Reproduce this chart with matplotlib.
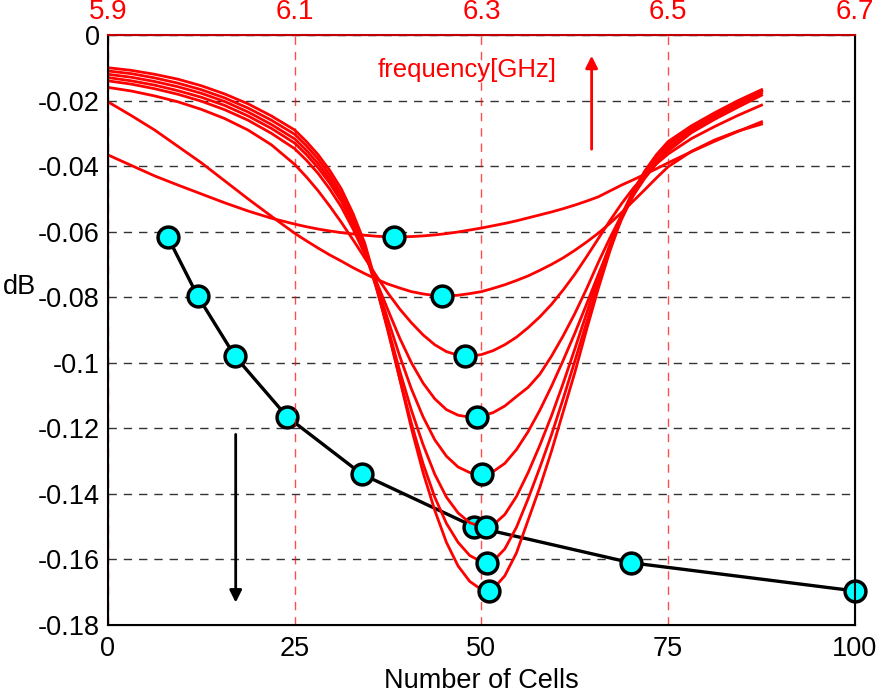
import matplotlib
matplotlib.use("Agg")
import matplotlib.pyplot as plt
from matplotlib.ticker import FixedLocator, FixedFormatter

# frequency sweep shared by every transmission curve (GHz)
FREQ_GHZ = [5.900, 5.925, 5.950, 5.975, 6.000, 6.025, 6.050, 6.075, 6.100,
            6.1125, 6.125, 6.1375, 6.150, 6.1625, 6.175, 6.1875, 6.200, 6.2125,
            6.225, 6.2375, 6.250, 6.2625, 6.275, 6.2875, 6.300, 6.3125, 6.325,
            6.3375, 6.350, 6.3625, 6.375, 6.3875, 6.400, 6.4125, 6.425, 6.4375,
            6.450, 6.4625, 6.475, 6.4875, 6.500, 6.525, 6.550, 6.575, 6.600]

# insertion loss (dB) of the eight structures, shallowest dip first
LOSS_1 = [-0.0366, -0.0398, -0.0430, -0.0458, -0.0485, -0.0512, -0.0537, -0.0559, -0.0577,
          -0.0585, -0.0592, -0.0598, -0.0603, -0.0607, -0.0611, -0.0614, -0.0616, -0.0616,
          -0.0615, -0.0613, -0.0610, -0.0606, -0.0601, -0.0595, -0.0589, -0.0582, -0.0575,
          -0.0567, -0.0558, -0.0549, -0.0540, -0.0530, -0.0519, -0.0507, -0.0494, -0.0476,
          -0.0458, -0.0442, -0.0425, -0.0408, -0.0390, -0.0356, -0.0324, -0.0294, -0.0265]
LOSS_2 = [-0.0204, -0.0246, -0.0290, -0.0340, -0.0390, -0.0445, -0.0500, -0.0553, -0.0605,
          -0.0628, -0.0650, -0.0671, -0.0690, -0.0710, -0.0728, -0.0745, -0.0760, -0.0772,
          -0.0783, -0.0790, -0.0795, -0.0796, -0.0794, -0.0789, -0.0783, -0.0773, -0.0762,
          -0.0749, -0.0735, -0.0718, -0.0700, -0.0680, -0.0657, -0.0632, -0.0605, -0.0575,
          -0.0542, -0.0507, -0.0472, -0.0436, -0.0402, -0.0355, -0.0320, -0.0293, -0.0272]
LOSS_3 = [-0.0160, -0.0171, -0.0186, -0.0204, -0.0227, -0.0255, -0.0290, -0.0335, -0.0395,
          -0.0433, -0.0475, -0.0522, -0.0572, -0.0625, -0.0680, -0.0735, -0.0788, -0.0836,
          -0.0878, -0.0915, -0.0945, -0.0966, -0.0977, -0.0980, -0.0975, -0.0963, -0.0945,
          -0.0922, -0.0893, -0.0860, -0.0822, -0.0778, -0.0730, -0.0677, -0.0622, -0.0567,
          -0.0515, -0.0468, -0.0428, -0.0393, -0.0363, -0.0316, -0.0279, -0.0245, -0.0214]
LOSS_4 = [-0.0140, -0.0150, -0.0164, -0.0181, -0.0202, -0.0228, -0.0260, -0.0300, -0.0347,
          -0.0382, -0.0422, -0.0470, -0.0525, -0.0592, -0.0668, -0.0752, -0.0840, -0.0925,
          -0.1000, -0.1062, -0.1110, -0.1143, -0.1160, -0.1166, -0.1163, -0.1152, -0.1132,
          -0.1103, -0.1075, -0.1035, -0.0980, -0.0918, -0.0850, -0.0775, -0.0695, -0.0620,
          -0.0550, -0.0490, -0.0437, -0.0392, -0.0354, -0.0298, -0.0257, -0.0220, -0.0184]
LOSS_5 = [-0.0130, -0.0140, -0.0153, -0.0170, -0.0190, -0.0215, -0.0247, -0.0285, -0.0330,
          -0.0365, -0.0405, -0.0452, -0.0508, -0.0578, -0.0660, -0.0760, -0.0870, -0.0980,
          -0.1080, -0.1165, -0.1235, -0.1285, -0.1318, -0.1335, -0.1340, -0.1332, -0.1307,
          -0.1265, -0.1210, -0.1145, -0.1072, -0.0993, -0.0910, -0.0822, -0.0732, -0.0645,
          -0.0563, -0.0490, -0.0430, -0.0383, -0.0345, -0.0292, -0.0251, -0.0213, -0.0177]
LOSS_6 = [-0.0120, -0.0129, -0.0142, -0.0158, -0.0178, -0.0203, -0.0235, -0.0273, -0.0317,
          -0.0352, -0.0392, -0.0440, -0.0498, -0.0572, -0.0660, -0.0772, -0.0895, -0.1025,
          -0.1145, -0.1250, -0.1340, -0.1410, -0.1458, -0.1488, -0.1500, -0.1495, -0.1463,
          -0.1408, -0.1335, -0.1252, -0.1162, -0.1063, -0.0958, -0.0850, -0.0742, -0.0640,
          -0.0550, -0.0476, -0.0418, -0.0372, -0.0336, -0.0285, -0.0245, -0.0207, -0.0172]
LOSS_7 = [-0.0110, -0.0118, -0.0131, -0.0147, -0.0167, -0.0192, -0.0223, -0.0260, -0.0303,
          -0.0338, -0.0378, -0.0427, -0.0485, -0.0560, -0.0650, -0.0770, -0.0905, -0.1048,
          -0.1185, -0.1308, -0.1410, -0.1490, -0.1548, -0.1588, -0.1607, -0.1605, -0.1568,
          -0.1502, -0.1415, -0.1320, -0.1220, -0.1110, -0.0995, -0.0878, -0.0762, -0.0652,
          -0.0556, -0.0478, -0.0417, -0.0368, -0.0330, -0.0280, -0.0240, -0.0203, -0.0169]
LOSS_8 = [-0.0100, -0.0108, -0.0120, -0.0135, -0.0155, -0.0180, -0.0210, -0.0247, -0.0290,
          -0.0325, -0.0365, -0.0413, -0.0470, -0.0545, -0.0635, -0.0760, -0.0900, -0.1050,
          -0.1200, -0.1335, -0.1450, -0.1548, -0.1620, -0.1667, -0.1692, -0.1690, -0.1650,
          -0.1580, -0.1480, -0.1380, -0.1270, -0.1150, -0.1030, -0.0900, -0.0775, -0.0660,
          -0.0560, -0.0478, -0.0415, -0.0365, -0.0325, -0.0277, -0.0237, -0.0200, -0.0167]
CURVES = [LOSS_1, LOSS_2, LOSS_3, LOSS_4, LOSS_5, LOSS_6, LOSS_7, LOSS_8]

# minimum loss vs number of cells, and the frequency where each minimum sits
CELLS = [8, 12, 17, 24, 34, 49, 70, 100]
MIN_LOSS = [-0.0616, -0.0796, -0.098, -0.1165, -0.134, -0.150, -0.161, -0.1696]
MIN_FREQ = [6.206, 6.258, 6.282, 6.295, 6.301, 6.305, 6.306, 6.308]

X_TICKS = [0, 25, 50, 75, 100]
F_TICKS = [5.9, 6.1, 6.3, 6.5, 6.7]
Y_TICKS = [0, -0.02, -0.04, -0.06, -0.08, -0.1, -0.12, -0.14, -0.16, -0.18]

plt.rcParams["font.family"] = ["Liberation Sans", "DejaVu Sans"]
plt.rcParams["axes.unicode_minus"] = False

fig = plt.figure(figsize=(8.85, 6.95), dpi=100)
ax = fig.add_axes([0.122, 0.1007, 0.844, 0.849])

ax.set_xlim(0, 100)
ax.set_ylim(-0.18, 0)
ax.yaxis.set_major_locator(FixedLocator(Y_TICKS))
ax.yaxis.set_major_formatter(FixedFormatter(["%g" % v for v in Y_TICKS]))
ax.xaxis.set_major_locator(FixedLocator(X_TICKS))
ax.tick_params(axis="both", direction="in", length=0, labelsize=19.5)
ax.tick_params(axis="y", pad=6)
ax.tick_params(axis="x", pad=8)
ax.grid(axis="y", color="k", linestyle=(0, (6, 5)), linewidth=1.0, alpha=0.8)
ax.set_axisbelow(True)

ax.plot(CELLS, MIN_LOSS, color="k", linewidth=2.4, zorder=2)
ax.plot(CELLS, MIN_LOSS, linestyle="none", marker="o", markersize=15,
        markerfacecolor="#00ffff", markeredgecolor="k", markeredgewidth=2.5,
        zorder=3, clip_on=False)

ax.set_xlabel("Number of Cells", fontsize=19.5, labelpad=4)
ax.set_ylabel("dB", fontsize=19.5, rotation=0)
ax.yaxis.set_label_coords(-0.118, 0.55)

ax.annotate("", xy=(17.1, -0.174), xytext=(17.1, -0.121),
            arrowprops=dict(arrowstyle="-|>", color="k", lw=2, mutation_scale=18))

# frequency axis on top
ax2 = ax.twiny()
ax2.set_xlim(5.9, 6.7)
ax2.xaxis.set_major_locator(FixedLocator(F_TICKS))
ax2.xaxis.set_major_formatter(FixedFormatter(["%g" % v for v in F_TICKS]))
ax2.tick_params(axis="x", direction="in", length=0, labelsize=20, colors="red", pad=7)
ax2.grid(axis="x", color="red", linestyle=(0, (6, 5)), linewidth=1.0, alpha=0.7)
ax2.spines["top"].set_color("#c00000")
ax2.spines["top"].set_linewidth(1.5)
for side in ("left", "bottom", "right"):
    ax2.spines[side].set_color("k")
    ax2.spines[side].set_linewidth(1.5)

for loss in CURVES:
    ax2.plot(FREQ_GHZ, loss, color="red", linewidth=2.0, zorder=2)
ax2.plot(MIN_FREQ, MIN_LOSS, linestyle="none", marker="o", markersize=15,
         markerfacecolor="#00ffff", markeredgecolor="k", markeredgewidth=2.5, zorder=3)

ax2.text(6.189, -0.0107, "frequency[GHz]", color="red", fontsize=18.5, va="center")
ax2.annotate("", xy=(6.418, -0.0055), xytext=(6.418, -0.0357),
             arrowprops=dict(arrowstyle="-|>", color="red", lw=2, mutation_scale=18))

fig.savefig("out.png", dpi=100)
